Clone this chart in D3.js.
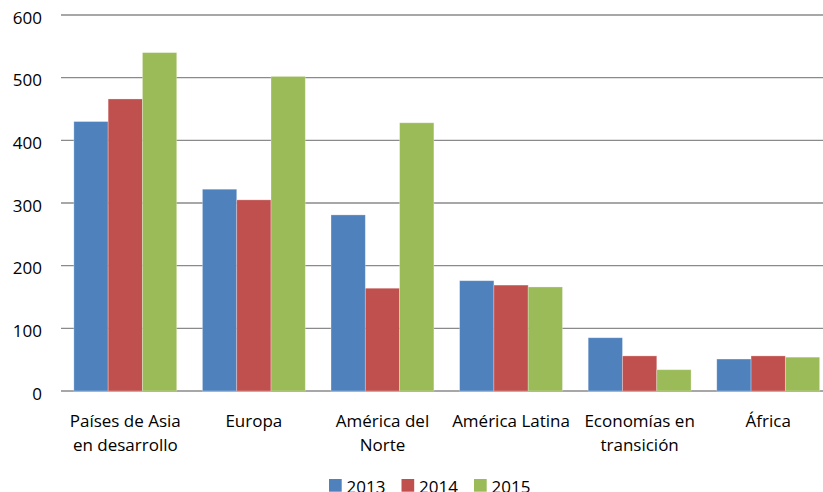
<!DOCTYPE html>
<html>
<head>
<meta charset="utf-8">
<script src="https://cdn.jsdelivr.net/npm/d3@7"></script>
<style>
  body { margin: 0; background: #fff; }
  svg { display: block; font-family: "Open Sans", sans-serif; }
</style>
</head>
<body>
<svg id="chart" width="823" height="492"></svg>
<script>
// datos
var regiones = [["Países de Asia", "en desarrollo"], ["Europa"], ["América del", "Norte"],
  ["América Latina"], ["Economías en", "transición"], ["África"]];
var anios = ["2013", "2014", "2015"];
var v2013 = [430, 322, 281, 176, 85, 51];
var v2014 = [466, 305, 164, 169, 56, 56];
var v2015 = [540, 502, 428, 166, 34, 54];
var yTicks = [0, 100, 200, 300, 400, 500, 600];
var colores = ["#4f81bd", "#c0504d", "#9bbb59"];

var series = [v2013, v2014, v2015];
var svg = d3.select('#chart');

var x = d3.scaleBand()
  .domain(d3.range(regiones.length))
  .range([61, 832.5])
  .paddingInner(0.2)
  .paddingOuter(0.1);

var xi = d3.scaleBand()
  .domain(anios)
  .range([0, x.bandwidth()]);

var y = d3.scaleLinear()
  .domain([0, 600])
  .range([391, 15]);

// rejilla
svg.append('g')
  .selectAll('line')
  .data(yTicks)
  .join('line')
  .attr('x1', 61)
  .attr('x2', 823)
  .attr('y1', function(d){ return y(d); })
  .attr('y2', function(d){ return y(d); })
  .attr('stroke', '#8a8a8a')
  .attr('stroke-width', 1.3);

// eje y (solo etiquetas)
var yAxis = svg.append('g')
  .attr('transform', 'translate(61,0)')
  .call(d3.axisLeft(y).tickValues(yTicks).tickSize(0).tickPadding(19));
yAxis.select('.domain').remove();
yAxis.selectAll('text')
  .attr('font-size', 17)
  .attr('font-family', '"Open Sans", sans-serif')
  .attr('fill', '#000')
  .attr('dy', '0.47em');

// barras
var grupos = svg.append('g')
  .selectAll('g')
  .data(regiones.map(function(r, i){ return i; }))
  .join('g')
  .attr('transform', function(i){ return 'translate(' + x(i) + ',0)'; });

grupos.selectAll('rect')
  .data(function(i){
    return anios.map(function(a, k){ return { anio: a, k: k, v: series[k][i] }; });
  })
  .join('rect')
  .attr('x', function(d){ return xi(d.anio); })
  .attr('width', xi.bandwidth())
  .attr('y', function(d){ return y(d.v); })
  .attr('height', function(d){ return y(0) - y(d.v); })
  .attr('fill', function(d){ return colores[d.k]; })
  .attr('stroke', 'rgba(255,255,255,0.35)')
  .attr('stroke-width', 0.8);

// eje x (etiquetas en dos líneas)
var etiquetas = svg.append('g')
  .selectAll('text')
  .data(regiones)
  .join('text')
  .attr('text-anchor', 'middle')
  .attr('font-size', 17)
  .attr('fill', '#000')
  .attr('x', function(d, i){ return x(i) + x.bandwidth() / 2; })
  .attr('y', 427);

etiquetas.selectAll('tspan')
  .data(function(d){ return d; })
  .join('tspan')
  .attr('x', function(){ return d3.select(this.parentNode).attr('x'); })
  .attr('dy', function(d, j){ return j === 0 ? 0 : 24; })
  .text(function(d){ return d; });

// leyenda
var leyenda = svg.append('g')
  .selectAll('g')
  .data(anios)
  .join('g')
  .attr('transform', function(d, i){ return 'translate(' + (329 + i * 72.5) + ',479)'; });

leyenda.append('rect')
  .attr('width', 12.7)
  .attr('height', 12.7)
  .attr('fill', function(d, i){ return colores[i]; });

leyenda.append('text')
  .attr('x', 17.5)
  .attr('y', 14)
  .attr('font-size', 17)
  .attr('fill', '#000')
  .text(function(d){ return d; });
</script>
</body>
</html>
